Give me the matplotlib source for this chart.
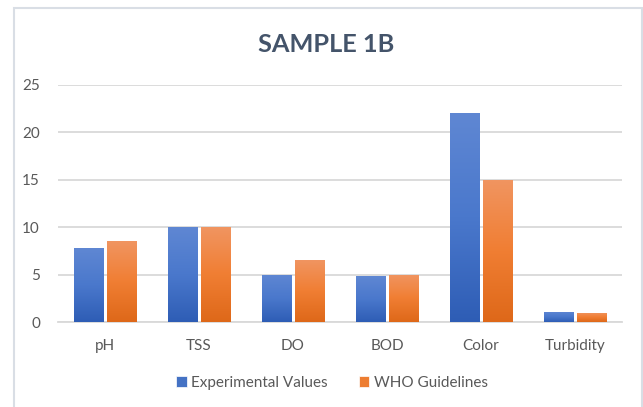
import numpy as np
import matplotlib.pyplot as plt
from matplotlib.colors import LinearSegmentedColormap
from matplotlib.patches import Rectangle

plt.rcParams['font.family'] = ['Lato', 'DejaVu Sans']

categories = ['pH', 'TSS', 'DO', 'BOD', 'Color', 'Turbidity']
experimental = [7.8, 10, 5, 4.8, 22, 1.1]
who_guidelines = [8.5, 10, 6.5, 5, 15, 1]
series_names = ['Experimental Values', 'WHO Guidelines']

text_color = '#595959'
grid_color = '#D9D9D9'
blue = '#4472C4'
orange = '#ED7D31'
blue_grad = LinearSegmentedColormap.from_list('b', ['#2E5DB5', '#4A78CC', '#5F87D3'])
orange_grad = LinearSegmentedColormap.from_list('o', ['#DE6819', '#F07E33', '#F19561'])


def add_gradient(ax, bars, cmap):
    # vertical gradient fill, clipped to each bar
    grad = np.linspace(0, 1, 256).reshape(-1, 1)
    for b in bars:
        x0, y0 = b.get_x(), b.get_y()
        w, h = b.get_width(), b.get_height()
        im = ax.imshow(grad, cmap=cmap, origin='lower', aspect='auto',
                       extent=(x0, x0 + w, y0, y0 + h), zorder=b.get_zorder() + 0.1)
        im.set_clip_path(b)


fig = plt.figure(figsize=(6.43, 4.07), dpi=100)
fig.patches.append(Rectangle((13.5 / 643, -0.05), (642 - 13.5) / 643, 1 - 7.5 / 407 + 0.05,
                             transform=fig.transFigure, fill=False,
                             edgecolor='#D9DEE5', linewidth=1.5))
ax = fig.add_axes([58 / 643, 1 - 322 / 407, 564 / 643, 237 / 407])

x = np.arange(len(categories))
width = 0.315
b1 = ax.bar(x - 0.1775, experimental, width, color=blue, edgecolor='white',
            linewidth=0.5, label=series_names[0], zorder=3)
b2 = ax.bar(x + 0.1775, who_guidelines, width, color=orange, edgecolor='white',
            linewidth=0.5, label=series_names[1], zorder=3)
add_gradient(ax, b1, blue_grad)
add_gradient(ax, b2, orange_grad)

ax.set_xlim(-0.5, len(categories) - 0.5)
ax.set_ylim(0, 25)
ax.set_yticks(range(0, 26, 5))
ax.yaxis.grid(True, color=grid_color, linewidth=1.3, zorder=0)
ax.set_axisbelow(True)
for s in ['top', 'right', 'left']:
    ax.spines[s].set_visible(False)
ax.spines['bottom'].set_color(grid_color)
ax.spines['bottom'].set_linewidth(1.3)
ax.set_xticks(x)
ax.set_xticklabels(categories)
ax.tick_params(axis='both', length=0, labelsize=11, colors=text_color)
ax.tick_params(axis='x', pad=12)
ax.tick_params(axis='y', pad=13)

fig.text(326 / 643, 1 - 45 / 407, 'SAMPLE 1B', ha='center', va='center',
         fontsize=18.3, fontweight='bold', color='#44546A')

leg = fig.legend(handles=[b1, b2], labels=series_names, loc='center',
                 bbox_to_anchor=(332 / 643, 1 - 383 / 407), ncol=2, frameon=False,
                 fontsize=11, handlelength=0.7, handleheight=0.7,
                 handletextpad=0.3, columnspacing=2.0)
for t in leg.get_texts():
    t.set_color(text_color)

fig.savefig('out.png', dpi=100)
plt.close(fig)
